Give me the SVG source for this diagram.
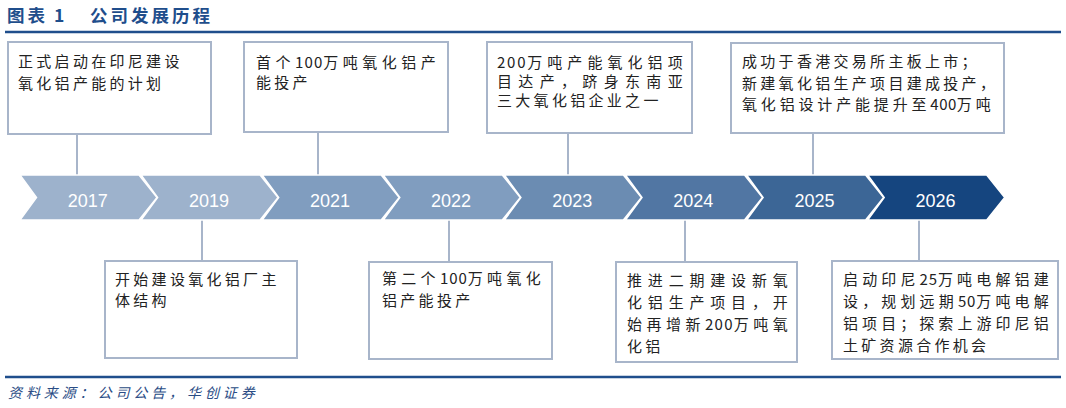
<svg xmlns="http://www.w3.org/2000/svg" width="1066" height="408" viewBox="0 0 1066 408">
<style>
.bg{fill:#ffffff}
.rule{stroke:#1F4E8C;stroke-width:2.5;fill:none}
.title{font-family:"Noto Sans CJK SC","Liberation Sans",sans-serif;font-size:17.5px;font-weight:bold;fill:#1F4E8C;letter-spacing:3px}
.foot{font-family:"Noto Sans CJK SC","Liberation Sans",sans-serif;font-size:14px;font-style:italic;fill:#2A4C85;letter-spacing:3.9px}
.chev{stroke:#ffffff;stroke-width:1.5;stroke-linejoin:miter}
.yr{font-family:"Liberation Sans","Open Sans",sans-serif;font-size:18px;fill:#ffffff;text-anchor:middle}
.box{fill:#ffffff;stroke:#A8B5CA;stroke-width:2}
.t{font-family:"Noto Sans CJK SC","Liberation Sans",sans-serif;font-size:15px;fill:#222222;letter-spacing:3.3px}
.n{letter-spacing:0px}
.conn line{stroke:#A8B5CA;stroke-width:2}
</style>
<rect class="bg" x="0" y="0" width="1066" height="408"/>
<g id="header">
<text class="title" x="7" y="21.5">图表</text>
<text class="title" x="54" y="21.5">1</text>
<text class="title" x="90" y="21.5">公司发展历程</text>
<line class="rule" x1="5" y1="32" x2="1061" y2="32"/>
</g>
<g class="conn" id="connectors">
<line x1="77" y1="134" x2="77" y2="175"/>
<line x1="318" y1="132" x2="318" y2="175"/>
<line x1="568" y1="133" x2="568" y2="175"/>
<line x1="813" y1="133" x2="813" y2="175"/>
<line x1="202" y1="220" x2="202" y2="261"/>
<line x1="449" y1="220" x2="449" y2="262"/>
<line x1="685" y1="220" x2="685" y2="262"/>
<line x1="919" y1="220" x2="919" y2="261"/>
</g>
<g id="n2017">
<polygon class="chev" fill="#9DB2CC" points="20,175 139,175 157,197.5 139,220 20,220 36.5,197.5"/>
<text class="yr" x="87.8" y="206.5">2017</text>
<rect class="box" x="8" y="42" width="203" height="92"/>
<text class="t" x="18" y="66.5">正式启动在印尼建设</text>
<text class="t" x="18" y="88.5">氧化铝产能的计划</text>
</g>
<g id="n2019">
<polygon class="chev" fill="#9DB2CC" points="141.1,175 260.1,175 278.1,197.5 260.1,220 141.1,220 157.6,197.5"/>
<text class="yr" x="208.9" y="206.5">2019</text>
<rect class="box" x="105" y="261" width="192" height="97"/>
<text class="t" x="115" y="285">开始建设氧化铝厂主</text>
<text class="t" x="115" y="306">体结构</text>
</g>
<g id="n2021">
<polygon class="chev" fill="#809DBF" points="262.2,175 381.2,175 399.2,197.5 381.2,220 262.2,220 278.7,197.5"/>
<text class="yr" x="330" y="206.5">2021</text>
<rect class="box" x="244" y="42" width="204" height="90"/>
<text class="t" x="256" y="67.5" textLength="183" lengthAdjust="spacing">首个<tspan class="n">100</tspan>万吨氧化铝产</text>
<text class="t" x="256" y="87.5">能投产</text>
</g>
<g id="n2022">
<polygon class="chev" fill="#809DBF" points="383.3,175 502.3,175 520.3,197.5 502.3,220 383.3,220 399.8,197.5"/>
<text class="yr" x="451.1" y="206.5">2022</text>
<rect class="box" x="369" y="262" width="183" height="97"/>
<text class="t" x="382" y="283.5" textLength="162" lengthAdjust="spacing">第二个<tspan class="n">100</tspan>万吨氧化</text>
<text class="t" x="382" y="305.5">铝产能投产</text>
</g>
<g id="n2023">
<polygon class="chev" fill="#6B8CB2" points="504.4,175 623.4,175 641.4,197.5 623.4,220 504.4,220 520.9,197.5"/>
<text class="yr" x="572.2" y="206.5">2023</text>
<rect class="box" x="487" y="42" width="205" height="91"/>
<text class="t" x="497" y="67.5" textLength="189" lengthAdjust="spacing"><tspan class="n">200</tspan>万吨产能氧化铝项</text>
<text class="t" x="497" y="87" textLength="189" lengthAdjust="spacing">目达产，跻身东南亚</text>
<text class="t" x="497" y="106">三大氧化铝企业之一</text>
</g>
<g id="n2024">
<polygon class="chev" fill="#5176A3" points="625.5,175 744.5,175 762.5,197.5 744.5,220 625.5,220 642,197.5"/>
<text class="yr" x="693.3" y="206.5">2024</text>
<rect class="box" x="616" y="262" width="181" height="100"/>
<text class="t" x="627" y="285.5" textLength="164" lengthAdjust="spacing">推进二期建设新氧</text>
<text class="t" x="627" y="307.5" textLength="164" lengthAdjust="spacing">化铝生产项目，开</text>
<text class="t" x="627" y="330" textLength="164" lengthAdjust="spacing">始再增新<tspan class="n">200</tspan>万吨氧</text>
<text class="t" x="627" y="351.5">化铝</text>
</g>
<g id="n2025">
<polygon class="chev" fill="#3C6696" points="746.6,175 865.6,175 883.6,197.5 865.6,220 746.6,220 763.1,197.5"/>
<text class="yr" x="814.4" y="206.5">2025</text>
<rect class="box" x="731" y="43" width="273" height="90"/>
<text class="t" x="742" y="66.5">成功于香港交易所主板上市；</text>
<text class="t" x="742" y="88.5">新建氧化铝生产项目建成投产，</text>
<text class="t" x="742" y="110" textLength="252" lengthAdjust="spacing">氧化铝设计产能提升至<tspan class="n">400</tspan>万吨</text>
</g>
<g id="n2026">
<polygon class="chev" fill="#15457F" points="867.7,175 986.7,175 1004.7,197.5 986.7,220 867.7,220 884.2,197.5"/>
<text class="yr" x="935.5" y="206.5">2026</text>
<rect class="box" x="832" y="261" width="226" height="98"/>
<text class="t" x="843" y="284.5" textLength="209" lengthAdjust="spacing">启动印尼<tspan class="n">25</tspan>万吨电解铝建</text>
<text class="t" x="843" y="306.5" textLength="209" lengthAdjust="spacing">设，规划远期<tspan class="n">50</tspan>万吨电解</text>
<text class="t" x="843" y="328.5" textLength="209" lengthAdjust="spacing">铝项目；探索上游印尼铝</text>
<text class="t" x="843" y="350.5">土矿资源合作机会</text>
</g>
<g id="footer">
<line class="rule" x1="5" y1="377" x2="1061" y2="377"/>
<text class="foot" x="8" y="398">资料来源：公司公告，华创证券</text>
</g>
</svg>
